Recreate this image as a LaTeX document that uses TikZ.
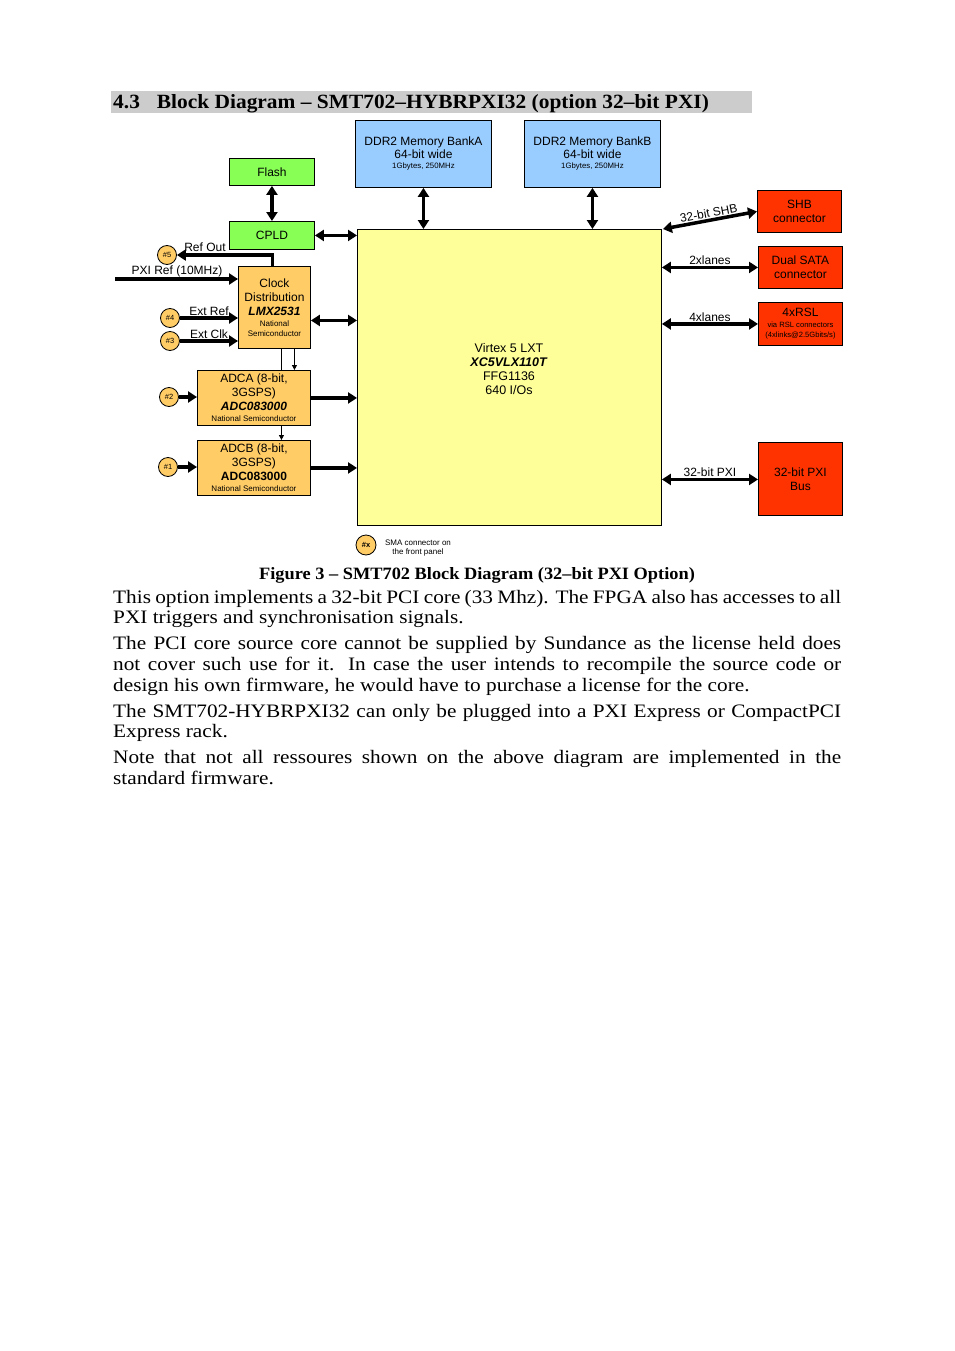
\documentclass[tikz,border=0pt]{standalone}
\usepackage{fontspec}
\setmainfont{Liberation Serif}
\newfontfamily\arial{Liberation Sans}
\newfontfamily\bodyfont[FakeStretch=1.12]{Liberation Serif}
\newfontfamily\headfont[FakeStretch=1.06]{Liberation Serif}
\usetikzlibrary{arrows.meta,calc}
\definecolor{greenc}{HTML}{88FF55}
\definecolor{bluec}{HTML}{99CCFF}
\definecolor{yellowc}{HTML}{FFFF99}
\definecolor{orangec}{HTML}{FFCC66}
\definecolor{redc}{HTML}{FF3300}
\definecolor{headgray}{RGB}{204,204,204}
\begin{document}
\begin{tikzpicture}[x=1pt,y=-1pt,
  box/.style={draw=black, line width=0.9pt, inner sep=0pt, anchor=north west, align=center,
    font=\arial\fontsize{12}{14}\selectfont},
  big/.style={line width=3.5pt, {Triangle[length=9pt,width=11pt]}-{Triangle[length=9pt,width=11pt]}},
  one/.style={line width=3.5pt, -{Triangle[length=9pt,width=11pt]}},
  thinline/.style={line width=0.8pt},
  thinarr/.style={line width=0.8pt, -{Triangle[length=5pt,width=5pt]}},
  sma/.style={circle, draw=black, line width=0.8pt, fill=orangec, minimum size=19pt, inner sep=0pt,
    font=\arial\fontsize{7.5}{7.5}\selectfont},
  lbl/.style={font=\arial\fontsize{12}{14}\selectfont, inner sep=1pt},
]
\fill[white] (0,0) rectangle (954,1351);
\path[use as bounding box] (0,0) rectangle (954,1351);

% heading
\node[fill=headgray, anchor=north west, minimum width=641pt, minimum height=22pt, inner sep=0pt] (band) at (111,91) {};
\node[anchor=base west, inner sep=0pt, font=\headfont\bfseries\fontsize{20.2}{24}\selectfont] (head) at (113,109)
  {4.3\hspace{17pt}Block Diagram – SMT702–HYBRPXI32 (option 32–bit PXI)};

% boxes
\node[box, fill=greenc, minimum width=85pt, minimum height=27pt] (flash) at (229,158) {Flash};
\node[box, fill=greenc, minimum width=85pt, minimum height=28pt] (cpld) at (229,221) {CPLD};
\node[box, fill=bluec, minimum width=136pt, minimum height=67pt] (ddra) at (355,120)
  {DDR2 Memory BankA\\[-1pt]64-bit wide\\[-4pt]{\fontsize{7.8}{8}\selectfont 1Gbytes, 250MHz}};
\node[box, fill=bluec, minimum width=136pt, minimum height=67pt] (ddrb) at (524,120)
  {DDR2 Memory BankB\\[-1pt]64-bit wide\\[-4pt]{\fontsize{7.8}{8}\selectfont 1Gbytes, 250MHz}};
\node[box, fill=yellowc, minimum width=304pt, minimum height=296pt] (vtx) at (357,229) {};
\node[align=center, font=\arial\fontsize{12.5}{14}\selectfont, inner sep=0pt] (vtxt) at (509,369)
  {Virtex 5 LXT\\\textbf{\textit{XC5VLX110T}}\\FFG1136\\640 I/Os};
\node[box, fill=orangec, minimum width=72pt, minimum height=82pt] (clk) at (238,266)
  {Clock\\Distribution\\\textbf{\textit{LMX2531}}\\[-3pt]{\fontsize{8}{8}\selectfont National}\\[-4pt]{\fontsize{8}{8}\selectfont Semiconductor}};
\node[box, fill=orangec, minimum width=113pt, minimum height=55pt] (adca) at (197,370)
  {ADCA (8-bit,\\3GSPS)\\\textbf{\textit{ADC083000}}\\[-3pt]{\fontsize{8}{8}\selectfont National Semiconductor}};
\node[box, fill=orangec, minimum width=113pt, minimum height=55pt] (adcb) at (197,440)
  {ADCB (8-bit,\\3GSPS)\\\textbf{ADC083000}\\[-3pt]{\fontsize{8}{8}\selectfont National Semiconductor}};
\node[box, fill=redc, minimum width=84pt, minimum height=42pt] (shb) at (757,190) {SHB\\connector};
\node[box, fill=redc, minimum width=84pt, minimum height=42pt] (sata) at (758,246) {Dual SATA\\connector};
\node[box, fill=redc, minimum width=84pt, minimum height=43pt] (rsl) at (758,302)
  {4xRSL\\[-3pt]{\fontsize{7.6}{8}\selectfont via RSL connectors}\\[-4pt]{\fontsize{7.6}{8}\selectfont (4xlinks@2.5Gbits/s)}};
\node[box, fill=redc, minimum width=84pt, minimum height=73pt] (pxib) at (758,442) {32-bit PXI\\Bus};

% SMA connectors
\node[sma] (c5) at (167,255) {\#5};
\node[sma] (c4) at (170,318) {\#4};
\node[sma] (c3) at (170,341) {\#3};
\node[sma] (c2) at (169,397) {\#2};
\node[sma] (c1) at (168,467) {\#1};
\node[sma, minimum size=20pt] (cx) at (366,545) {\textbf{\#x}};
\node[align=center, inner sep=0pt, font=\arial\fontsize{8}{9.5}\selectfont] (legend) at (418,548)
  {SMA connector on\\the front panel};

% connectors
\draw[big] (flash.south) -- (cpld.north);
\draw[big] (cpld.east) -- (cpld.east -| vtx.west);
\draw[big] (ddra.south) -- (ddra.south |- vtx.north);
\draw[big] (ddrb.south) -- (ddrb.south |- vtx.north);
\draw[big] ([yshift=-13pt]clk.east) -- ([yshift=-13pt]clk.east -| vtx.west);
\draw[one] ([xshift=-2pt]clk.north) |- (c5);
\coordinate (pxisrc) at (115,279);
\draw[one] (pxisrc) -- (pxisrc -| clk.west);
\draw[one] (c4) -- (c4 -| clk.west);
\draw[one] (c3) -- (c3 -| clk.west);
\draw[thinline] ([xshift=7pt]clk.south) -- ([xshift=7pt]clk.south |- adca.north);
\draw[thinarr] ([xshift=20pt]clk.south) -- ([xshift=20pt]clk.south |- adca.north);
\draw[thinarr] ([xshift=27.5pt]adca.south) -- ([xshift=27.5pt]adca.south |- adcb.north);
\draw[one] (c2) -- (c2 -| adca.west);
\draw[one] (c1) -- (c1 -| adcb.west);
\draw[one] (adca.east) -- (adca.east -| vtx.west);
\draw[one] (adcb.east) -- (adcb.east -| vtx.west);
\draw[big] ([xshift=1pt]vtx.north east) -- node[lbl, sloped, above] (lshb) {32-bit SHB} (shb.west);
\draw[big] (sata.west -| vtx.east) -- node[lbl, above] (lsata) {2xlanes} (sata.west);
\draw[big] (rsl.west -| vtx.east) -- node[lbl, above] (lrsl) {4xlanes} (rsl.west);
\draw[big] ([yshift=-0.5pt]pxib.west -| vtx.east) -- node[lbl, above] (lpxi) {32-bit PXI} ([yshift=-0.5pt]pxib.west);

% connector labels
\node[lbl] (lref) at (205,247) {Ref Out};
\node[lbl] (lpxr) at (177,271) {PXI Ref (10MHz)};
\node[lbl] (lext) at (209,311) {Ext Ref};
\node[lbl] (lclk) at (209,334) {Ext Clk};

% caption and text
\node[anchor=base, inner sep=0pt, font=\headfont\bfseries\fontsize{17.3}{20}\selectfont] (cap) at (477,579)
  {Figure 3 – SMT702 Block Diagram (32–bit PXI Option)};
\node[anchor=base west, inner sep=0pt] (body) at (113,603) {\parbox[t]{728pt}{%
\bodyfont\fontsize{19}{20.8}\selectfont\setlength{\parskip}{5pt}\setlength{\parindent}{0pt}%
This option implements a 32-bit PCI core (33 Mhz). The FPGA also has accesses to all\linebreak
PXI triggers and synchronisation signals.\par
The PCI core source core cannot be supplied by Sundance as the license held does\linebreak
not cover such use for it. In case the user intends to recompile the source code or\linebreak
design his own firmware, he would have to purchase a license for the core.\par
The SMT702-HYBRPXI32 can only be plugged into a PXI Express or CompactPCI\linebreak
Express rack.\par
Note that not all ressoures shown on the above diagram are implemented in the\linebreak
standard firmware.}};
\end{tikzpicture}
\end{document}
